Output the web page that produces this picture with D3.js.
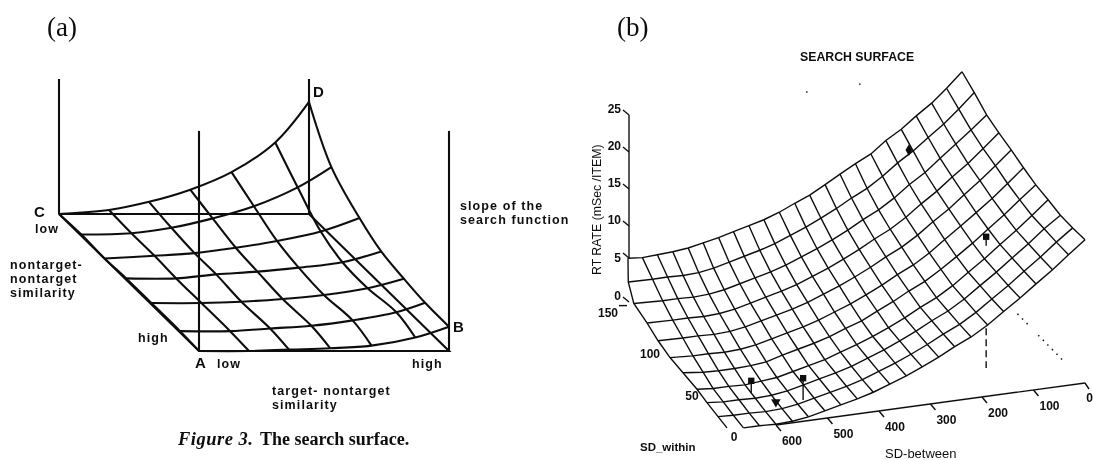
<!DOCTYPE html>
<html>
  <head>
    <meta http-equiv="Content-Type" content="text/html;charset=utf-8"/>
    <script src="https://d3js.org/d3.v7.min.js"></script>
    <style>
      body { margin: 0; background: #fff; }
      svg { display: block; }
      text { fill: #111; font-family: "Liberation Sans", sans-serif; }
    </style>
  </head>
  <body>
    <script type="text/javascript">

// (a) the hand drawn surface, similarity in percent of the floor, height in percent of the back posts
var targetSim = [0, 20, 36, 52.5, 69, 86.5, 100];
var nontargetSim = [0, 16, 32.5, 48, 66, 86.5, 100];
var rightEdgeTarget = [100, 100, 102, 102, 101, 98, 100];
var slopeHeight = [
  [0, 3, 9, 18, 31, 53, 83],
  [1, 2, 6, 13, 22, 36, 51],
  [0, 2, 4, 8, 13, 20, 30],
  [1, 1, 4, 6, 9, 13, 21],
  [1, 1, 2, 4, 7, 12, 19],
  [1, 1, 3, 5, 9, 15, 22],
  [0, 0, 1, 2, 4, 10, 18]
];
var posts = [[0, 0, 100], [100, 0, 100], [0, 100, 163], [100, 100, 163]];

// (b) the fitted surface
var sdBetween = [695, 663, 632, 600, 568, 537, 505, 474, 442, 411, 379, 347, 316, 284, 253, 221, 189, 158, 126, 95, 63, 32, 0];
var sdWithin = [0, 15, 30, 45, 60, 75, 90, 105, 120, 135, 150];
var leftEdgeBetween = [695, 693, 695, 695, 703, 709, 713, 715, 722, 713, 693];
var rtRate = [
  [0.5, 0.2, 0.2, 0.1, 0.2, 0.5, 1.0, 1.5, 2.0, 2.6, 3.4, 4.2, 5.1, 6.1, 7.2, 8.2, 9.5, 11.0, 12.5, 14.1, 15.7, 17.4, 19.1],
  [0.3, 0.2, 0.2, 0.1, 0.2, 0.5, 1.0, 1.5, 2.0, 2.6, 3.4, 4.2, 5.1, 6.1, 7.2, 8.2, 9.5, 11.0, 12.5, 14.1, 15.7, 17.4, 19.0],
  [0.5, 0.3, 0.3, 0.2, 0.3, 0.6, 1.1, 1.6, 2.1, 2.7, 3.5, 4.3, 5.2, 6.2, 7.3, 8.3, 9.6, 11.1, 12.6, 14.2, 15.8, 17.5, 19.0],
  [0.6, 0.4, 0.4, 0.3, 0.5, 0.7, 1.2, 1.7, 2.2, 2.9, 3.6, 4.4, 5.3, 6.3, 7.4, 8.4, 9.7, 11.2, 12.7, 14.3, 15.9, 17.6, 19.4],
  [1.2, 0.9, 0.8, 0.8, 0.9, 1.1, 1.7, 2.2, 2.7, 3.3, 4.1, 4.8, 5.8, 6.8, 7.9, 8.9, 10.2, 11.6, 13.1, 14.7, 16.3, 18.0, 19.7],
  [1.6, 1.4, 1.4, 1.3, 1.4, 1.7, 2.2, 2.7, 3.2, 3.8, 4.6, 5.4, 6.3, 7.3, 8.4, 9.4, 10.7, 12.2, 13.7, 15.2, 16.8, 18.5, 20.3],
  [2.2, 2.1, 2.1, 2.0, 2.1, 2.4, 2.9, 3.4, 3.9, 4.5, 5.3, 6.1, 7.0, 8.0, 9.1, 10.1, 11.4, 12.9, 14.3, 15.9, 17.5, 19.2, 21.0],
  [2.9, 2.8, 2.8, 2.7, 2.8, 3.1, 3.6, 4.1, 4.6, 5.2, 6.0, 6.8, 7.7, 8.7, 9.8, 10.8, 12.1, 13.6, 15.0, 16.6, 18.1, 19.8, 21.6],
  [3.9, 3.7, 3.7, 3.6, 3.7, 4.0, 4.5, 5.0, 5.5, 6.1, 6.9, 7.7, 8.6, 9.6, 10.7, 11.7, 13.0, 14.5, 15.8, 17.4, 19.0, 20.6, 22.3],
  [5.0, 4.9, 4.9, 4.8, 4.9, 5.2, 5.7, 6.2, 6.7, 7.3, 8.1, 8.9, 9.8, 10.8, 11.9, 12.9, 14.2, 15.7, 17.0, 18.5, 20.0, 21.7, 23.6],
  [6.3, 6.1, 6.2, 6.3, 6.5, 6.9, 7.3, 7.8, 8.3, 8.8, 9.5, 10.4, 11.2, 12.3, 13.4, 14.5, 15.5, 17.0, 18.2, 19.7, 21.1, 22.8, 24.7]
];
var rtTicks = [0, 5, 10, 15, 20, 25];
var betweenTicks = [0, 100, 200, 300, 400, 500, 600];
var withinTicks = [0, 50, 100, 150];
// measured cells: between, within, rate
var searchPoints = [[159, 120, 19.1], [146, 30, 17.5], [608, 30, 2.6], [580, 15, 1.2], [506, 30, 2.0]];
var pointStems = [[146, 30, 17.5, 16.3], [146, 30, 5.3, 0], [608, 30, 2.6, 1.0], [506, 30, 2.0, -0.9]];
var hiddenFloorEdge = [[28, 57], [70, 83]];
var wallSpecks = [[212, 25], [322, 25]];

var w = 1093, h = 460;
var svg = d3.select("body").insert("svg")
  .attr("width", w)
  .attr("height", h);
var defs = svg.append("defs");
defs.append("filter").attr("id", "scan")
  .append("feGaussianBlur").attr("stdDeviation", 0.45);
var page = svg.append("g").attr("filter", "url(#scan)");

function label(x, y, s, size, weight, anchor) {
  return page.append("text")
    .attr("x", x)
    .attr("y", y)
    .attr("font-size", size)
    .attr("font-weight", weight || "bold")
    .attr("text-anchor", anchor || "start")
    .text(s);
}
// the wide, tight lettering of panel a
function wide(x, y, s) {
  return label(x, y, s, 12.5).style("letter-spacing", "1.1px");
}

// ---- panel a ----
var a = page.append("g").attr("fill", "none").attr("stroke", "#111").attr("stroke-width", 2.1);
var aT = d3.scaleLinear().domain([0, 100]).range([0, 250]);
var aNx = d3.scaleLinear().domain([0, 100]).range([59, 199]);
var aNy = d3.scaleLinear().domain([0, 100]).range([214, 351]);
var aZ = d3.scaleLinear().domain([0, 100]).range([0, 135]);
function pa(t, n, z) { return [aT(t) + aNx(n), aNy(n) - aZ(z)]; }
var aLine = d3.line().curve(d3.curveCatmullRom.alpha(0.5));
// the far edge of the drawing wanders a little off the last target line
function rowTarget(i, j) { return i == targetSim.length - 1 ? rightEdgeTarget[j] : targetSim[i]; }

posts.forEach(function(p) {
  a.append("path").attr("d", aLine([pa(p[0], p[1], 0), pa(p[0], p[1], p[2])]));
});
a.append("path").attr("d", d3.line()([pa(0, 0, 0), pa(100, 0, 0), pa(100, 100, 0), pa(0, 100, 0), pa(0, 0, 0)]));
slopeHeight.forEach(function(row, j) {
  a.append("path").attr("d", aLine(row.map(function(z, i) { return pa(rowTarget(i, j), nontargetSim[j], z); })));
});
targetSim.forEach(function(t, i) {
  a.append("path").attr("d", aLine(nontargetSim.map(function(n, j) { return pa(rowTarget(i, j), n, slopeHeight[j][i]); })));
});

label(34, 217, "C", 15);
wide(35, 233, "low");
wide(10, 269, "nontarget-");
wide(10, 283, "nontarget");
wide(10, 297, "similarity");
wide(138, 342, "high");
label(195, 368, "A", 15);
wide(217, 368, "low");
wide(412, 368, "high");
label(453, 332, "B", 15);
label(313, 97, "D", 15);
wide(460, 210, "slope of the");
wide(460, 224, "search function");
wide(272, 395, "target- nontarget");
wide(272, 409, "similarity");
label(178, 445, "Figure 3.", 18.5, "bold").style("font-family", "Liberation Serif").style("font-style", "italic").style("letter-spacing", "0.5px");
label(260, 445, "The search surface.", 18, "bold").style("font-family", "Liberation Serif");
label(47, 36, "(a)", 27, "normal").style("font-family", "Liberation Serif");
label(617, 36, "(b)", 27, "normal").style("font-family", "Liberation Serif");

// ---- panel b ----
var b = page.append("g").attr("fill", "none").attr("stroke", "#111").attr("stroke-width", 1.4);
var bX = d3.scaleLinear().domain([0, 695]).range([1085, 727]);
var bDepth = d3.scaleLinear().domain([0, 695]).range([123, 100]);
var bY = d3.scaleLinear().domain([0, 695]).range([383, 431.6]);
var wY = d3.scaleLinear().domain([0, 150]).range([0, -126]);
var rY = d3.scaleLinear().domain([0, 25]).range([0, -187.5]);
function pb(sb, sw, r) {
  return [bX(sb) - bDepth(sb) * sw / 150, bY(sb) + wY(sw) + rY(r)];
}
function rowBetween(i, k) { return i == 0 ? leftEdgeBetween[k] : sdBetween[i]; }

var bLine = d3.line();
rtRate.forEach(function(row, k) {
  var pts = row.map(function(r, i) { return pb(rowBetween(i, k), sdWithin[k], r); });
  // the front row starts at the second long line
  b.append("path").attr("d", bLine(k == 0 ? pts.slice(1) : pts));
});
sdBetween.forEach(function(sb, i) {
  b.append("path").attr("d", bLine(sdWithin.map(function(sw, k) { return pb(rowBetween(i, k), sw, rtRate[k][i]); })));
});

// rt axis on the back wall
var rtAxis = d3.scaleLinear().domain([0, 5, 10, 25]).range([302, 258, 226, 115]);
b.append("path").attr("d", d3.line()([[629, rtAxis(5)], [629, rtAxis(25)]]));
rtTicks.forEach(function(t) {
  b.append("path").attr("d", d3.line()([[623, rtAxis(t) - 5], [629, rtAxis(t)]]));
  label(621, rtAxis(t) + (t == 5 ? 4 : -2), t, 12, "bold", "end");
});

// between axis on the floor
b.append("path").attr("d", d3.line()([pb(0, 0, 0), pb(600, 0, 0)]));
b.append("path").attr("d", d3.line()([pb(0, 0, 0), [bX(0) + 4, bY(0) + 6]]));
betweenTicks.forEach(function(t) {
  var p = pb(t, 0, 0);
  if (t > 0) b.append("path").attr("d", d3.line()([p, [p[0] + 5, p[1] + 6]]));
  if (t == 0) label(w, p[1] + 19, t, 12, "bold", "end");
  else label(p[0] + 16, p[1] + 20, t, 12, "bold", "middle");
});
var withinLabelX = d3.scaleLinear().domain([0, 150]).range([734, 608]);
var withinLabelY = d3.scaleLinear().domain([0, 150]).range([441, 317]);
withinTicks.forEach(function(t) {
  label(withinLabelX(t), withinLabelY(t), t, 12, "bold", "middle");
});
var p150 = pb(695, 150, 0);
b.append("path").attr("d", d3.line()([[p150[0] - 8, p150[1]], p150]));

// marked search points
var symbols = [d3.symbolDiamond, d3.symbolSquare, d3.symbolSquare, d3.symbolTriangle, d3.symbolSquare];
searchPoints.forEach(function(p, i) {
  var q = pb(p[0], p[1], p[2]);
  page.append("path")
    .attr("d", d3.symbol().type(symbols[i]).size(40)())
    .attr("transform", "translate(" + q[0] + "," + q[1] + ")" + (i == 3 ? "rotate(180)" : ""))
    .attr("fill", "#111");
});
pointStems.forEach(function(s) {
  b.append("path")
    .attr("stroke-dasharray", s[3] == 0 ? "7,4" : null)
    .attr("d", d3.line()([pb(s[0], s[1], s[2]), pb(s[0], s[1], s[3])]));
});
hiddenFloorEdge.forEach(function(s) {
  b.append("path")
    .attr("stroke-dasharray", "1.5,5")
    .attr("stroke-width", 1.5)
    .attr("d", d3.line()([pb(0, s[0], 0), pb(0, s[1], 0)]));
});
wallSpecks.forEach(function(s) {
  var q = pb(s[0], 150, s[1]);
  page.append("circle").attr("cx", q[0]).attr("cy", q[1]).attr("r", 1).attr("fill", "#555");
});

label(800, 61, "SEARCH  SURFACE", 12.3);
label(640, 451, "SD_within", 11.5);
label(885, 458, "SD-between", 13, "normal");
label(0, 0, "RT  RATE (mSec /ITEM)", 12.3, "normal")
  .attr("transform", "translate(601,275) rotate(-90)");

    </script>
  </body>
</html>
